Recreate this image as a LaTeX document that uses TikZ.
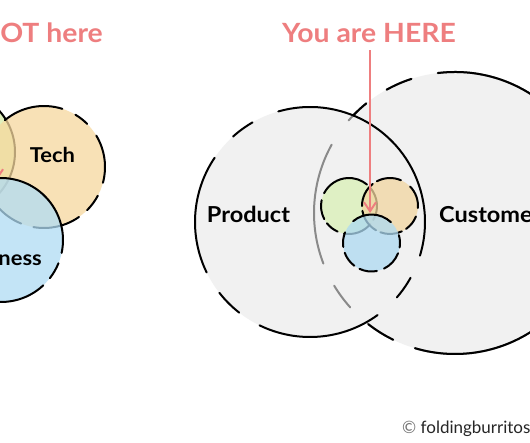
\documentclass[tikz,border=0pt]{standalone}
\usepackage{fontspec}
\setmainfont{Lato}
\newfontfamily\labfont[FakeStretch=1.07]{Lato}
\usetikzlibrary{arrows.meta}
\definecolor{salmon}{HTML}{EE7E7F}
\definecolor{lgray}{HTML}{F1F1F1}
\definecolor{cgray}{HTML}{8A8A8A}
\definecolor{ltech}{HTML}{F6D89E}
\definecolor{lbiz}{HTML}{B0DCF4}
\definecolor{lgreen}{HTML}{D6EBA8}
\definecolor{sgreen}{HTML}{DAF0B6}
\definecolor{sorange}{HTML}{F2D6A0}
\definecolor{sblue}{HTML}{ADDAF2}
\tikzset{
  outl/.style={line width=2pt, draw=black, line cap=round},
  title/.style={text=salmon, font=\labfont\bfseries\fontsize{26.5}{30}\selectfont, inner sep=0pt},
  lab/.style={text=black, font=\labfont\bfseries\fontsize{22}{26}\selectfont, inner sep=0pt},
  arr/.style={draw=salmon, line width=1.8pt, -{Straight Barb[length=9pt,width=12pt,line width=2pt]}},
  cfill/.style={fill opacity=.75}
}
\begin{document}
\begin{tikzpicture}[x=1pt,y=-1pt]
\useasboundingbox (0,0) rectangle (530,442);
\clip (0,0) rectangle (530,442);
\fill[white] (0,0) rectangle (530,442);
% ---------- left group ----------
\coordinate (G) at (-47,152);
\coordinate (T) at (44,167);
\coordinate (B) at (1,240);
\fill[lgreen, cfill] (G) circle[radius=62];
\draw[outl] (G) circle[radius=62];
\fill[ltech, cfill] (T) circle[radius=61];
\draw[outl] foreach \a/\b in {-130/-72.5, -59/-45, -31/15, 28/45, 55/100, 112/140, 152/222} {(T) ++(\a:61) arc[start angle=\a, end angle=\b, radius=61]};
\fill[lbiz, cfill] (B) circle[radius=62];
\draw[outl] foreach \a/\b in {-100/12, 22/38, 47/150, 160/250} {(B) ++(\a:62) arc[start angle=\a, end angle=\b, radius=62]};
\node[title, anchor=base east] (nothere) at (103,42) {You are NOT here};
\coordinate (ntip) at (-3,180);
\coordinate (nstart) at (-3,50);
\draw[arr] (nstart) -- (ntip);
\node[lab, font=\labfont\bfseries\fontsize{20.5}{24}\selectfont] (tech) at (52.5,162) [anchor=base] {Tech};
\node[lab, font=\labfont\bfseries\fontsize{20.5}{24}\selectfont, anchor=base east] (biz) at (42,265) {Business};
% ---------- right group ----------
\coordinate (C) at (455,213);
\coordinate (P) at (310,222);
\fill[lgray] (C) circle[radius=141];
\fill[lgray] (P) circle[radius=115];
\draw[outl, draw=cgray] foreach \a/\b in {-97/106.5, 116/128, 138/149, 159/209, 221/231, 241/252} {(C) ++(\a:141) arc[start angle=\a, end angle=\b, radius=141]};
\begin{scope}[even odd rule]
\clip (-10,-10) rectangle (540,452) (P) circle[radius=115];
\draw[outl] foreach \a/\b in {-97/106.5, 116/128, 138/149, 159/209, 221/231, 241/252} {(C) ++(\a:141) arc[start angle=\a, end angle=\b, radius=141]};
\end{scope}
\draw[outl] foreach \a/\b in {-106/17, 29/41, 54/116, 128/142, 154/214, 228/240} {(P) ++(\a:115) arc[start angle=\a, end angle=\b, radius=115]};
% small circles
\coordinate (SG) at (349,206);
\coordinate (SO) at (390,206);
\coordinate (SB) at (371.5,243);
\fill[sgreen, cfill] (SG) circle[radius=28];
\draw[outl] foreach \a/\b in {-153/-50, -40/30, 40/100, 114/142, 152/192} {(SG) ++(\a:28) arc[start angle=\a, end angle=\b, radius=28]};
\fill[sorange, cfill] (SO) circle[radius=28];
\draw[outl] foreach \a/\b in {-118/-67, -44/4, 22/55, 65/110, 120/170, 180/232} {(SO) ++(\a:28) arc[start angle=\a, end angle=\b, radius=28]};
\fill[sblue, cfill] (SB) circle[radius=28.5];
\draw[outl] foreach \a/\b in {-130/-47, -16/9, 21/64, 79/115, 127/160, 172/202} {(SB) ++(\a:28.5) arc[start angle=\a, end angle=\b, radius=28.5]};
\node[lab] (prod) at (248.5,222) [anchor=base] {Product};
\node[lab, anchor=base west] (cust) at (439,222) {Customer};
\node[title, anchor=base] (here) at (369,42) {You are HERE};
\coordinate (hstart) at (370,50);
\coordinate (htip) at (370,213);
\draw[arr] (hstart) -- (htip);
\node[anchor=base west, inner sep=0pt, font=\fontsize{17}{20}\selectfont, text=black!85] (credit) at (402,433) {{\color{black!55}©} foldingburritos.com};
\end{tikzpicture}
\end{document}
